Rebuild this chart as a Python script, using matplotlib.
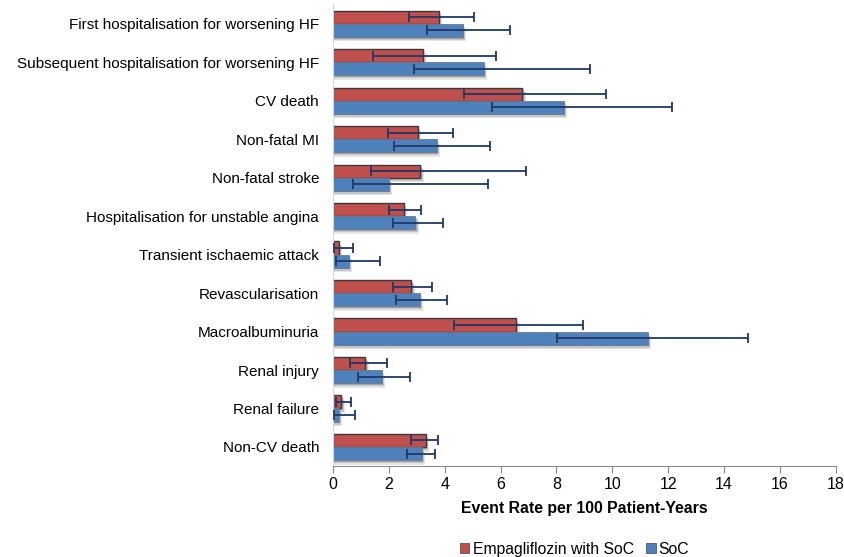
import matplotlib
matplotlib.use("Agg")
import matplotlib.pyplot as plt
import numpy as np
from matplotlib.patches import Patch

categories = [
    "First hospitalisation for worsening HF",
    "Subsequent hospitalisation for worsening HF",
    "CV death",
    "Non-fatal MI",
    "Non-fatal stroke",
    "Hospitalisation for unstable angina",
    "Transient ischaemic attack",
    "Revascularisation",
    "Macroalbuminuria",
    "Renal injury",
    "Renal failure",
    "Non-CV death",
]
empa = [3.80, 3.23, 6.78, 3.05, 3.13, 2.53, 0.20, 2.81, 6.56, 1.16, 0.30, 3.32]
empa_lo = [2.73, 1.42, 4.68, 1.97, 1.37, 1.99, 0.03, 2.16, 4.34, 0.62, 0.12, 2.78]
empa_hi = [5.04, 5.84, 9.77, 4.29, 6.92, 3.14, 0.73, 3.53, 8.96, 1.94, 0.66, 3.75]
soc = [4.65, 5.41, 8.27, 3.71, 2.00, 2.95, 0.56, 3.11, 11.28, 1.74, 0.20, 3.18]
soc_lo = [3.37, 2.92, 5.70, 2.20, 0.73, 2.16, 0.11, 2.27, 8.03, 0.89, 0.03, 2.66]
soc_hi = [6.33, 9.21, 12.13, 5.61, 5.54, 3.93, 1.70, 4.09, 14.87, 2.77, 0.78, 3.65]
xticks = [0, 2, 4, 6, 8, 10, 12, 14, 16, 18]
series_names = ["Empagliflozin with SoC", "SoC"]

plt.rcParams['font.family'] = ['Liberation Sans', 'DejaVu Sans']

fig = plt.figure(figsize=(8.45, 5.57), dpi=100)
ax = fig.add_axes([0.394, 0.163, 0.595, 0.829])

n = len(categories)
y = np.arange(n)
h = 0.34
red = '#C0504D'
blue = '#4F81BD'
errc = '#1F3864'

y_red = y - h / 2
y_blue = y + h / 2
empa_a = np.array(empa); soc_a = np.array(soc)

# drop shadows
for ys, vals in ((y_red, empa_a), (y_blue, soc_a)):
    for k, a in ((0.12, 0.16), (0.08, 0.24), (0.045, 0.32)):
        ax.barh(ys + k, vals + k * 1.0, height=h, left=0, color='#606060',
                alpha=a, linewidth=0, zorder=1)

ax.barh(y_red, empa_a, height=h, color=red, edgecolor='#3a3a3a', linewidth=1.0, zorder=2)
ax.barh(y_blue, soc_a, height=h, color=blue, edgecolor='#6a7a90', linewidth=0.6, zorder=2)

ekw = dict(fmt='none', ecolor=errc, elinewidth=1.3, capsize=3.5, capthick=1.3, zorder=3)
ax.errorbar(empa_a, y_red, xerr=[empa_a - np.array(empa_lo), np.array(empa_hi) - empa_a], **ekw)
ax.errorbar(soc_a, y_blue, xerr=[soc_a - np.array(soc_lo), np.array(soc_hi) - soc_a], **ekw)

ax.set_ylim(n - 0.5, -0.5)
ax.set_xlim(0, 18)
ax.set_xticks(xticks)
ax.set_xticklabels([str(t) for t in xticks], fontsize=11.5)
ax.set_yticks(y)
ax.set_yticklabels(categories, fontsize=11.0)
ax.tick_params(axis='y', length=0, pad=10)
ax.tick_params(axis='x', direction='out', length=5, color='#888888', pad=3)

for s in ('top', 'right'):
    ax.spines[s].set_visible(False)
ax.spines['left'].set_color('#c5dcf0')
ax.spines['bottom'].set_color('#888888')

ax.set_xlabel("Event Rate per 100 Patient-Years", fontsize=11.4, fontweight='bold', labelpad=6)

handles = [Patch(facecolor=red, edgecolor='#555555', linewidth=0.6),
           Patch(facecolor=blue, edgecolor='#555555', linewidth=0.6)]
fig.legend(handles, series_names, loc='center', bbox_to_anchor=(0.68, 0.014),
           ncol=2, frameon=False, fontsize=11.3, handlelength=0.6, handleheight=0.6,
           handletextpad=0.2, columnspacing=0.8)

fig.savefig("out.png", dpi=100)
